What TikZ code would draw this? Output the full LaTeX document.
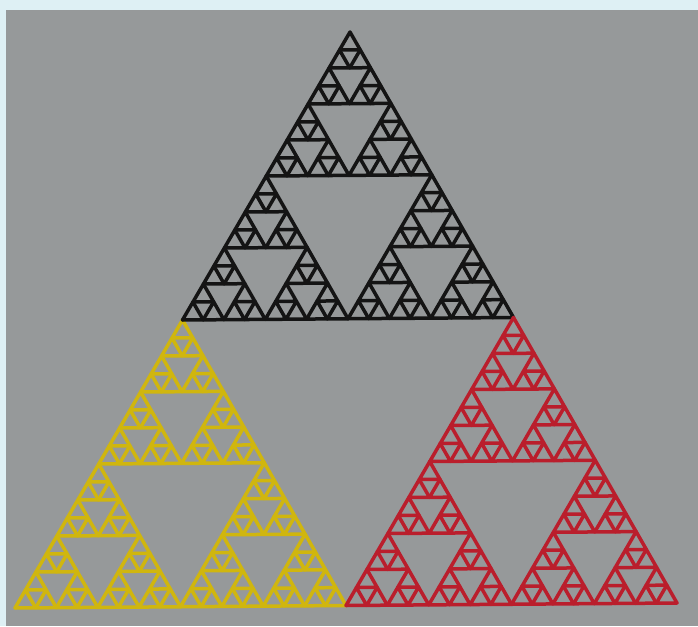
\documentclass[tikz,border=0pt]{standalone}
\usepackage{tikz}
\usepackage{xcolor}

\definecolor{paper}{RGB}{150,153,154}
\definecolor{glare}{RGB}{222,240,244}
\definecolor{inkblack}{RGB}{20,20,20}
\definecolor{inkyellow}{RGB}{208,182,14}
\definecolor{inkred}{RGB}{186,30,44}

\begin{document}
\begin{tikzpicture}[
  x=1pt, y=-1pt,
  cell/.style={line width=3.5pt,line join=round,line cap=round}
]
  % photo background
  \fill[glare] (0,0) rectangle (698,626);
  \fill[paper] (6,10) rectangle (698,626);
  \useasboundingbox (0,0) rectangle (698,626);
  % gasket of order 5: corner (15,608), base to (677,603), apex (350,32)
  \begin{scope}[shift={(15pt,-608pt)}, x={(20.6875pt,0.15625pt)}, y={(10.46875pt,18pt)}]
    \foreach \u in {0,...,31}{
      \foreach \v in {0,...,31}{
        \pgfmathtruncatemacro\hit{mod(\u,2)*mod(\v,2)+mod(floor(\u/2),2)*mod(floor(\v/2),2)+mod(floor(\u/4),2)*mod(floor(\v/4),2)+mod(floor(\u/8),2)*mod(floor(\v/8),2)+mod(floor(\u/16),2)*mod(floor(\v/16),2)}
        \ifnum\hit=0
          \ifnum\v>15 \def\ink{inkblack}\else\ifnum\u>15 \def\ink{inkred}\else\def\ink{inkyellow}\fi\fi
          \draw[cell,\ink] (\u,\v) -- ++(1,0) -- ++(-1,1) -- cycle;
        \fi
      }
    }
  \end{scope}
\end{tikzpicture}
\end{document}
